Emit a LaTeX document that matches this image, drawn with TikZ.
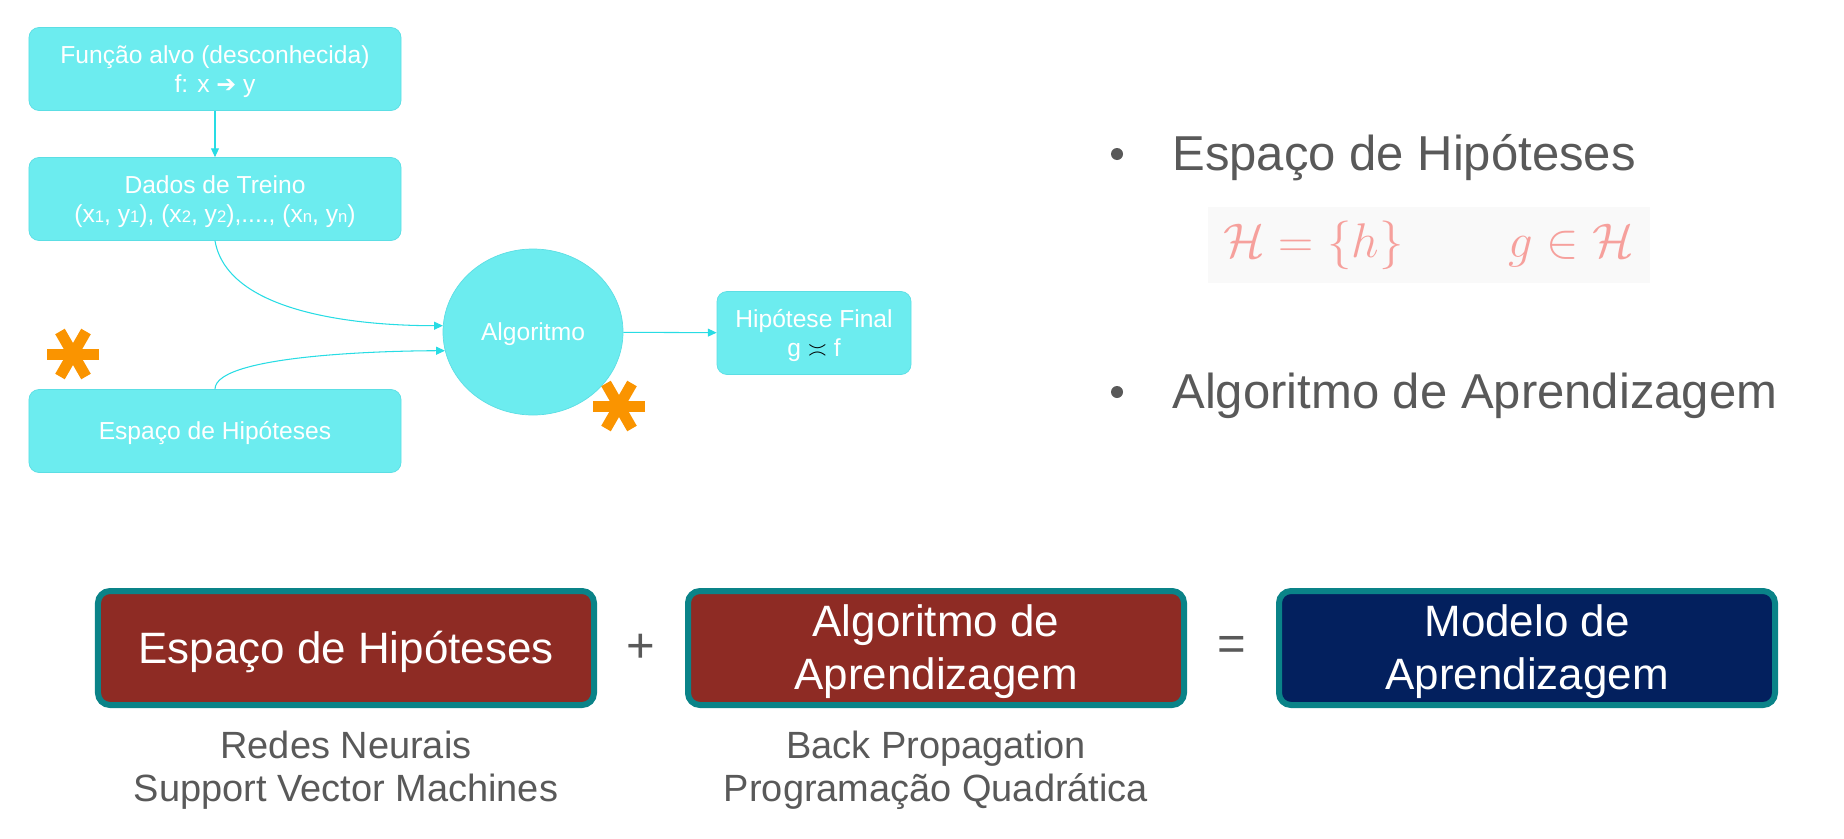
\documentclass[tikz,border=0pt]{standalone}
\usepackage{fix-cm}
\usepackage{fontspec}
\setmainfont{Liberation Sans}
\newfontfamily\setas{DejaVu Sans}
\usetikzlibrary{positioning, shapes.geometric, arrows.meta}
\definecolor{ciano}{RGB}{108,236,239}
\definecolor{cianoborda}{RGB}{92,222,228}
\definecolor{cianoseta}{RGB}{40,220,228}
\definecolor{laranja}{RGB}{250,148,0}
\definecolor{petroleo}{RGB}{10,131,136}
\definecolor{vinho}{RGB}{142,43,36}
\definecolor{marinho}{RGB}{3,32,94}
\definecolor{cinza}{RGB}{89,89,89}
\definecolor{rosa}{RGB}{246,160,156}
\definecolor{fundo}{RGB}{249,249,249}
\newcommand{\idx}[1]{{\fontsize{9.5}{9.5}\selectfont #1}}
\tikzset{
	caixa/.style={
		rectangle,
		rounded corners=2mm,
		draw=cianoborda,
		fill=ciano,
		text=white,
		align=center,
		inner sep=0,
		minimum width=74.4mm,
		minimum height=16.6mm,
		text height=12.7pt,
		text depth=3pt,
		font=\fontsize{14}{16.5}\selectfont
	},
	duas/.style={text height=29.2pt},
	oval/.style={ellipse, draw=cianoborda, fill=ciano, text=white, inner sep=0, minimum width=36mm, minimum height=33.2mm, text height=12.7pt, text depth=3pt, font=\fontsize{14}{16.5}\selectfont},
	seta/.style={draw=cianoseta, line width=0.6pt, -{Triangle[length=5pt, width=4.5pt]}},
	bloco/.style={
		rectangle,
		rounded corners=2.4mm,
		draw=petroleo,
		line width=1.2mm,
		text=white,
		align=center,
		inner sep=0,
		minimum width=99.2mm,
		minimum height=22.8mm,
		text height=22.6pt,
		text depth=5.3pt,
		font=\fontsize{25}{30.2}\selectfont
	},
	duasb/.style={text height=52.8pt},
	texto/.style={text=cinza, align=center, inner sep=0, font=\fontsize{21.6}{24.8}\selectfont},
	titulo/.style={text=cinza, inner sep=0, font=\fontsize{27.9}{33}\selectfont},
	ponto/.style={circle, inner sep=0, minimum size=2.4mm, fill=cinza},
	asterisco/.style={draw=laranja, line width=2.2mm}
}

\begin{document}
\begin{tikzpicture}[x=0.2mm, y=-0.2mm]
	\useasboundingbox (0,0) rectangle (1844,838);

	\node [caixa, duas] (alvo) at (215,69) {Função alvo (desconhecida)\\f: x {\setas\fontsize{13.5}{13.5}\selectfont ➔} y};
	\node [caixa, duas] (treino) at (215,199) {Dados de Treino\\(x\idx{1}, y\idx{1}), (x\idx{2}, y\idx{2}),...., (x\idx{n}, y\idx{n})};
	\node [caixa] (espaco) at (215,431) {Espaço de Hipóteses};
	\node [oval] (alg) at (533,332) {Algoritmo};
	\node [caixa, duas, minimum width=38.8mm] (final) at (814,333) {Hipótese Final\\g {\color{black}$\asymp$} f};

	\draw [seta] (alvo) -- (treino);
	\draw [seta] (treino.south) to[out=-80, in=180, looseness=0.8] (alg.176);
	\draw [seta] (espaco.north) to[out=90, in=180, looseness=0.4] (alg.192);
	\draw [seta] (alg) -- (final);

	\coordinate (ast1) at (73,354);
	\coordinate (ast2) at (619,406);
	\foreach \c in {ast1, ast2}
		\foreach \a in {0,60,120}
			\draw [asterisco] (\c) +(\a:26) -- +(\a+180:26);

	\node [ponto] (p1) at (1117,154) {};
	\node [titulo, anchor=base west] (hip) at (1172,170) {Espaço de Hipóteses};
	\node [rectangle, fill=fundo, text=rosa, minimum width=88.4mm, minimum height=15.2mm, font=\fontsize{27.7}{31}\selectfont] (formula) at (1429,245) {$\mathcal{H}=\{h\}\qquad\,g\in\mathcal{H}$};
	\node [ponto] (p2) at (1117,392) {};
	\node [titulo, anchor=base west] (apr) at (1172,408) {Algoritmo de Aprendizagem};

	\node [bloco, fill=vinho] (espbloco) at (346,648) {Espaço de Hipóteses};
	\node [bloco, duasb, fill=vinho] (algbloco) at (936,648) {Algoritmo de\\Aprendizagem};
	\node [bloco, duasb, fill=marinho] (modelo) at (1527,648) {Modelo de\\Aprendizagem};
	\path (espbloco) -- node [titulo] (mais) {+} (algbloco);
	\path (algbloco) -- node [titulo] (igual) {=} (modelo);

	\node [texto, below=4.5mm of espbloco] (redes) {Redes Neurais\\Support Vector Machines};
	\node [texto, below=4.5mm of algbloco] (metodos) {Back Propagation\\Programação Quadrática};
\end{tikzpicture}
\end{document}
